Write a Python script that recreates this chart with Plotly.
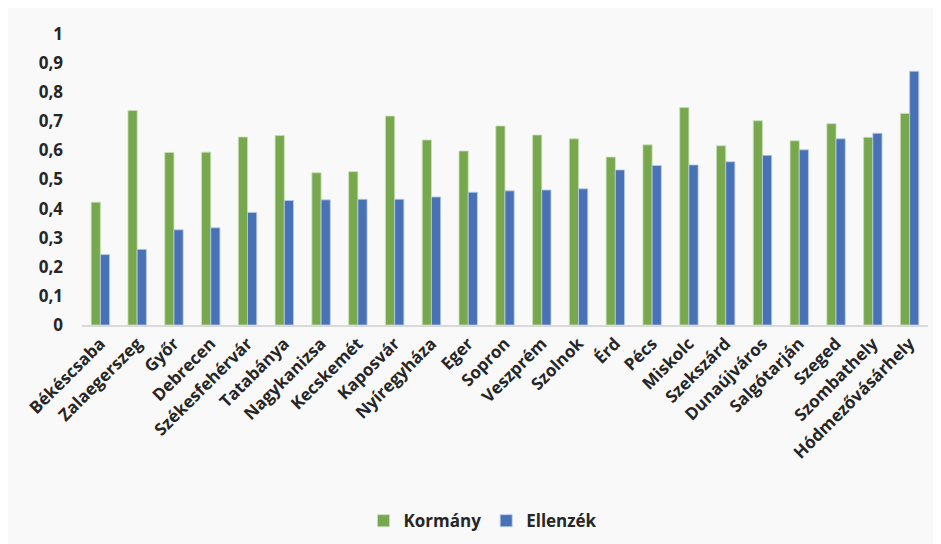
import plotly.graph_objects as go

cities = ["Békéscsaba", "Zalaegerszeg", "Győr", "Debrecen", "Székesfehérvár", "Tatabánya",
          "Nagykanizsa", "Kecskemét", "Kaposvár", "Nyíregyháza", "Eger", "Sopron", "Veszprém",
          "Szolnok", "Érd", "Pécs", "Miskolc", "Szekszárd", "Dunaújváros", "Salgótarján",
          "Szeged", "Szombathely", "Hódmezővásárhely"]
kormany = [0.422, 0.737, 0.593, 0.594, 0.646, 0.651, 0.523, 0.527, 0.718, 0.636, 0.598, 0.684,
           0.653, 0.640, 0.577, 0.619, 0.747, 0.616, 0.702, 0.633, 0.692, 0.645, 0.727]
ellenzek = [0.242, 0.260, 0.327, 0.334, 0.387, 0.428, 0.430, 0.432, 0.432, 0.440, 0.456, 0.461,
            0.464, 0.468, 0.533, 0.548, 0.550, 0.561, 0.583, 0.602, 0.640, 0.659, 0.872]

FONT = "Open Sans"
TXT = "#262626"

fig = go.Figure()
fig.add_trace(go.Bar(x=cities, y=kormany, name="Kormány",
                     marker=dict(color="#77A84E", line=dict(color="#c9e0b8", width=0.8))))
fig.add_trace(go.Bar(x=cities, y=ellenzek, name="Ellenzék",
                     marker=dict(color="#4971B6", line=dict(color="#b9cbe8", width=0.8))))

fig.update_layout(
    width=941, height=544,
    barmode="group", bargap=0.5, bargroupgap=0,
    paper_bgcolor="#f9f9f9", plot_bgcolor="#f9f9f9",
    separators=", ",
    margin=dict(l=74, r=21, t=26, b=227),
    font=dict(family=FONT, color=TXT, size=16),
    showlegend=True,
    legend=dict(orientation="h", x=0.474, xanchor="center", y=-0.674, yanchor="middle",
                font=dict(family=FONT, size=17, color=TXT, weight="bold"),
                itemwidth=30, traceorder="normal"),
    xaxis=dict(tickangle=-45, showline=True, linecolor="#d9d9d9", linewidth=2,
               tickfont=dict(family=FONT, size=17, color=TXT, weight="bold"),
               ticks="", showgrid=False),
    yaxis=dict(range=[0, 1], dtick=0.1, tick0=0, showgrid=False, zeroline=False,
               showline=False, ticks="", ticklabelstandoff=18,
               tickfont=dict(family=FONT, size=17, color=TXT, weight="bold")),
)

fig.write_html("out.html")
